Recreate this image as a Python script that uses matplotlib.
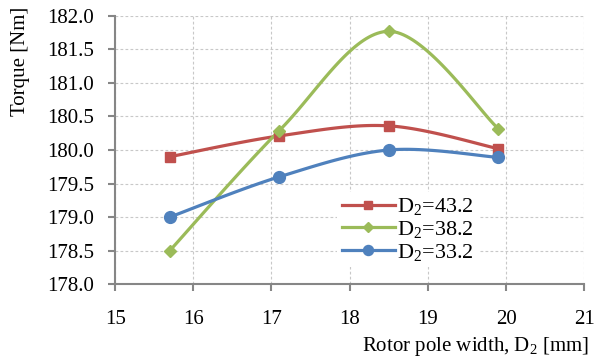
import numpy as np
import matplotlib
matplotlib.use('Agg')
import matplotlib.pyplot as plt

plt.rcParams['font.family'] = ['Liberation Serif', 'DejaVu Serif']
plt.rcParams['mathtext.fontset'] = 'custom'
plt.rcParams['mathtext.rm'] = 'Liberation Serif'
plt.rcParams['mathtext.it'] = 'Liberation Serif:italic'

# data
pole_width = [15.7, 17.1, 18.5, 19.9]
torque_432 = [179.90, 180.21, 180.36, 180.02]
torque_382 = [178.50, 180.29, 181.77, 180.32]
torque_332 = [179.00, 179.60, 180.00, 179.89]

series = [
    ('D$_2$=43.2', torque_432, '#C0504D', 's', 6.5),
    ('D$_2$=38.2', torque_382, '#9BBB59', 'D', 6),
    ('D$_2$=33.2', torque_332, '#4F81BD', 'o', 8.5),
]


def smooth(x, y, n=40):
    # excel style smoothed line (catmull-rom as cubic bezier)
    p = np.column_stack([x, y]).astype(float)
    p = np.vstack([p[0], p, p[-1]])
    out = []
    t = np.linspace(0, 1, n)[:, None]
    for i in range(1, len(p) - 2):
        p0, p1, p2, p3 = p[i - 1], p[i], p[i + 1], p[i + 2]
        c1 = p1 + (p2 - p0) / 6
        c2 = p2 - (p3 - p1) / 6
        seg = ((1 - t) ** 3) * p1 + 3 * ((1 - t) ** 2) * t * c1 + 3 * (1 - t) * t ** 2 * c2 + t ** 3 * p2
        out.append(seg)
    out = np.vstack(out)
    return out[:, 0], out[:, 1]


fig = plt.figure(figsize=(6.06, 3.61), dpi=100)
ax = fig.add_axes([0.19, 0.213, 0.774, 0.743])

for label, vals, color, marker, ms in series:
    sx, sy = smooth(pole_width, vals)
    ax.plot(sx, sy, color=color, lw=2.3, zorder=3)
    ax.plot(pole_width, vals, linestyle='none', marker=marker, color=color, ms=ms, zorder=4)
    ax.plot([], [], color=color, lw=2.3, marker=marker, ms=ms * 0.85, label=label)

ax.set_xlim(15, 21)
ax.set_ylim(178, 182)
ax.set_xticks(np.arange(15, 22, 1))
ax.set_yticks(np.arange(178, 182.01, 0.5))
ax.set_yticklabels([f'{v:.1f}' for v in np.arange(178, 182.01, 0.5)])

ax.grid(True, color='#c8c8c8', linestyle=(0, (2.5, 2)), linewidth=0.8)
ax.set_axisbelow(True)

for s in ['top', 'right']:
    ax.spines[s].set_visible(False)
for s in ['left', 'bottom']:
    ax.spines[s].set_color('#868686')
    ax.spines[s].set_linewidth(1.5)

ax.tick_params(axis='both', colors='#868686', width=1.5, length=5, labelsize=15, labelcolor='black')
ax.tick_params(axis='x', pad=13.5)
ax.tick_params(axis='y', pad=10)

ax.set_ylabel('Torque [Nm]', fontsize=15, loc='top')
ax.yaxis.set_label_coords(-0.182, 1.034)
ax.set_xlabel('Rotor pole width, D$_2$ [mm]', fontsize=15, loc='right')
ax.xaxis.set_label_coords(1.011, -0.19)

leg = ax.legend(loc='upper left', bbox_to_anchor=(0.45, 0.385), fontsize=16,
                frameon=True, facecolor='white', edgecolor='none', framealpha=1,
                handlelength=2.4, handletextpad=0.1, labelspacing=0.08,
                borderpad=0.2, fancybox=False)

fig.savefig('out.png', dpi=100)
